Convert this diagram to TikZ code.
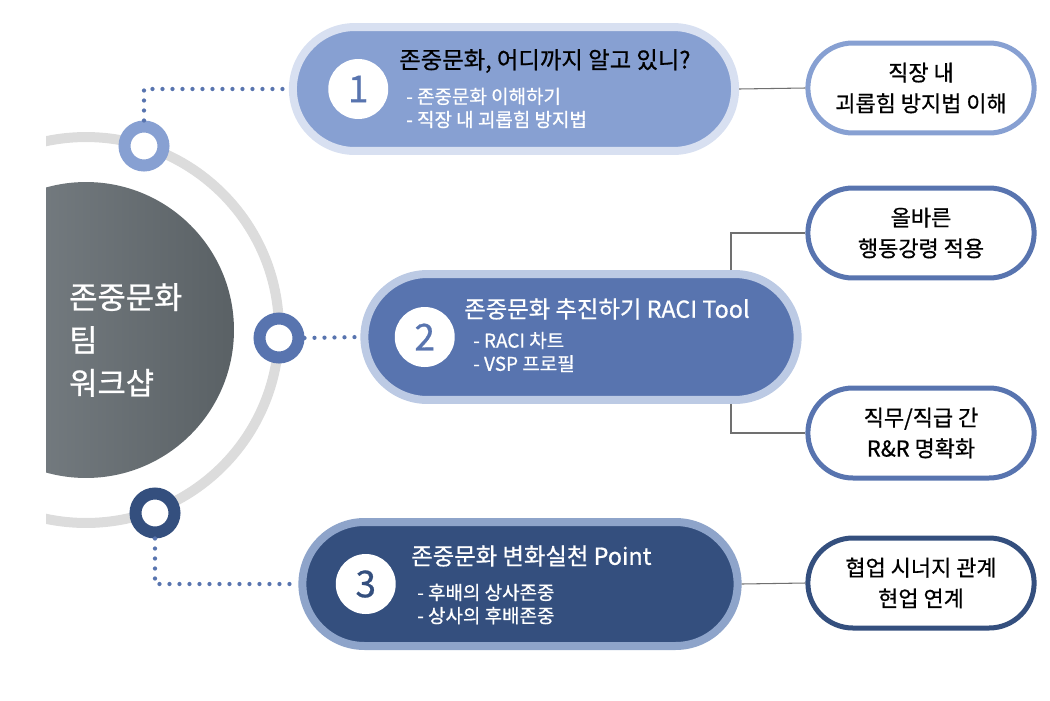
\documentclass[tikz,border=0pt]{standalone}
\usepackage{fontspec}
\setmainfont[FakeBold=0.7]{Noto Sans CJK KR}
\usepackage{tikz}
\usetikzlibrary{positioning,shapes.misc,calc}
\definecolor{ringgray}{HTML}{DCDCDC}
\definecolor{hubleft}{HTML}{80878C}
\definecolor{hubright}{HTML}{5A6165}
\definecolor{lightblue}{HTML}{87A0D2}
\definecolor{lightrim}{HTML}{D8E0F1}
\definecolor{midblue}{HTML}{5874AF}
\definecolor{midrim}{HTML}{BCCAE4}
\definecolor{darkblue}{HTML}{344F7E}
\definecolor{darkrim}{HTML}{8EA4CA}
\definecolor{linegray}{HTML}{707070}

\begin{document}
\begin{tikzpicture}[
  x=0.02cm,y=-0.02cm,
  every node/.style={font=\fontsize{12.5pt}{17.5pt}\selectfont},
  pill/.style={rounded rectangle,line width=0.16cm,minimum width=9cm,minimum height=2.48cm},
  numdisc/.style={circle,fill=white,minimum size=1.2cm,inner sep=0pt,font=\fontsize{21pt}{21pt}\selectfont},
  knob/.style={circle,fill=white,line width=0.24cm,minimum size=0.78cm,inner sep=0pt},
  goal/.style={rounded rectangle,draw,fill=white,line width=0.1cm,minimum width=4.76cm,minimum height=1.8cm,align=center},
  head/.style={anchor=west,font=\fontsize{13.3pt}{16pt}\selectfont},
  items/.style={anchor=west,align=left,text=white,font=\fontsize{10.8pt}{13.2pt}\selectfont},
  dots/.style={draw=midblue,line width=0.085cm,line cap=round,dash pattern=on 0pt off 0.2cm},
  link/.style={draw=linegray,line width=0.6pt},
]
  \useasboundingbox (0,0) rectangle (1050,700);
  \begin{scope}
    \clip (46,0) rectangle (1050,700);
    \shade[left color=hubleft,right color=hubright] (86,330) circle[radius=2.96cm];
    \draw[ringgray,line width=0.2cm] (86,330) circle[radius=3.86cm];
  \end{scope}
  \node[anchor=west,text=white,align=left,font=\fontsize{17.5pt}{24.4pt}\selectfont] (hub) at (63,340) {존중문화\\팀\\워크샵};

  \node[knob,draw=lightblue] (c1) at (144,146) {};
  \node[knob,draw=midblue] (c2) at (279,338) {};
  \node[knob,draw=darkblue] (c3) at (155,513) {};

  \node[pill,draw=lightrim,fill=lightblue,minimum width=9.08cm] (p1) at (514,89) {};
  \node[pill,draw=midrim,fill=midblue,minimum width=8.9cm,minimum height=2.52cm] (p2) at (581,337) {};
  \node[pill,draw=darkrim,fill=darkblue,minimum width=8.94cm] (p3) at (520,584) {};

  \node[numdisc,text=midblue,right=0.78cm of p1.west] (n1) {1};
  \node[numdisc,text=midblue,right=0.68cm of p2.west] (n2) {2};
  \node[numdisc,text=darkblue,right=0.74cm of p3.west] (n3) {3};

  \node[head] (t1) at (393,61) {존중문화, 어디까지 알고 있니?};
  \node[items] (s1) at (400,108) {- 존중문화 이해하기\\- 직장 내 괴롭힘 방지법};
  \node[head,text=white] (t2) at (458,309) {존중문화 추진하기 RACI Tool};
  \node[items] (s2) at (467,352) {- RACI 차트\\- VSP 프로필};
  \node[head,text=white] (t3) at (405,556) {존중문화 변화실천 Point};
  \node[items] (s3) at (411,604) {- 후배의 상사존중\\- 상사의 후배존중};

  \node[goal,draw=lightblue] (g1) at (921,88) {직장 내\\괴롭힘 방지법 이해};
  \node[goal,draw=midblue] (g2) at (921,233) {올바른\\행동강령 적용};
  \node[goal,draw=midblue] (g3) at (921,433) {직무/직급 간\\R\&R 명확화};
  \node[goal,draw=darkblue] (g4) at (921,583) {협업 시너지 관계\\현업 연계};

  \draw[dots] (c1.north) |- (p1.west);
  \draw[dots] (c2.east) -- (p2.west);
  \draw[dots] (c3.south) |- (p3.west);

  \draw[link] (p1.east) -- (g1.west);
  \draw[link] ([xshift=3cm]p2.north) |- (g2.west);
  \draw[link] ([xshift=3cm]p2.south) |- (g3.west);
  \draw[link] (p3.east) -- (g4.west);
\end{tikzpicture}
\end{document}
